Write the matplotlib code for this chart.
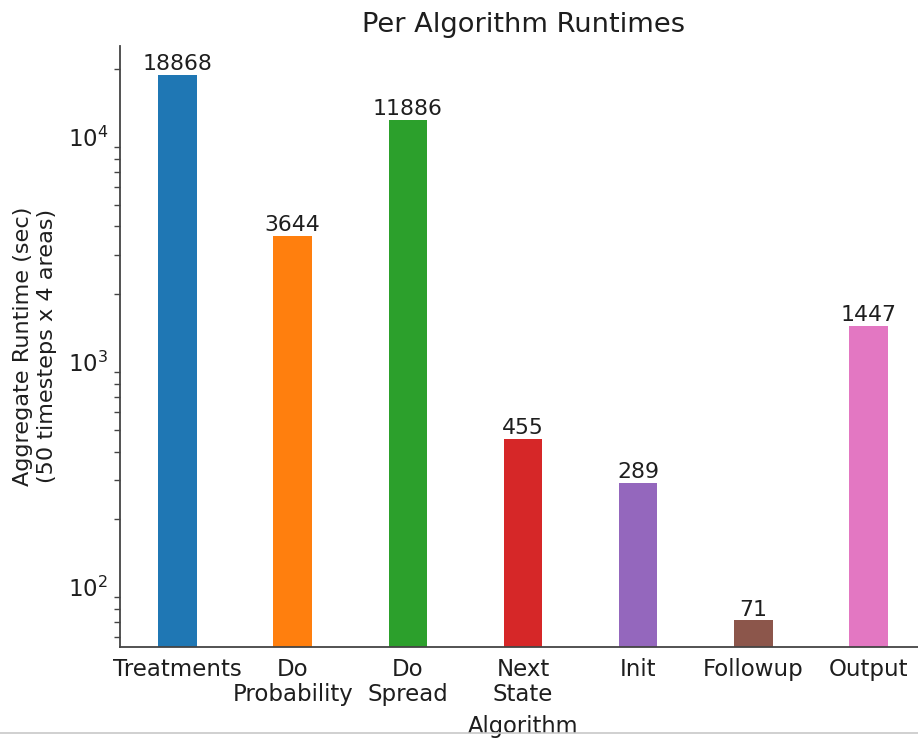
import matplotlib
matplotlib.use("Agg")
import matplotlib.pyplot as plt
from matplotlib.lines import Line2D

categories = ["Treatments", "Do\nProbability", "Do\nSpread", "Next\nState", "Init", "Followup", "Output"]
runtimes = [18868, 3644, 11886, 455, 289, 71, 1447]
colors = ["#1f77b4", "#ff7f0e", "#2ca02c", "#d62728", "#9467bd", "#8c564b", "#e377c2"]

plt.rcParams['font.family'] = ['DejaVu Sans']
FS_TICK = 16.5
FS_BAR = 15.8
FS_LABEL = 16.3
TXT = '#1e1e1e'

fig = plt.figure(figsize=(9.18, 7.38), dpi=100)
ax = fig.add_axes([120/918, 1 - 646.7/738, (926 - 120)/918, (646.7 - 46)/738])

x = list(range(len(categories)))
ax.bar(x, runtimes, width=0.335, color=colors, edgecolor='none')
ax.set_yscale('log')
ax.set_ylim(54.3, 25360)
ax.set_xlim(-0.5, 6.5)

for xi, v in zip(x, runtimes):
    ax.text(xi, v * 1.01, str(v), ha='center', va='bottom', fontsize=FS_BAR, color=TXT)

ax.set_xticks(x)
ax.set_xticklabels(categories, fontsize=FS_TICK, color=TXT, ha='center', multialignment='center',
                   linespacing=1.1)
ax.tick_params(axis='y', which='major', length=3.5, pad=5, color=(0, 0, 0, 0),
               labelsize=FS_TICK, labelcolor=TXT)
ax.tick_params(axis='x', which='major', length=3.5, pad=4.5, color=(0, 0, 0, 0),
               labelsize=FS_TICK, labelcolor=TXT)
ax.tick_params(axis='y', which='minor', length=4, width=1, color='#444444')
ax.tick_params(axis='x', which='minor', length=0)

ax.spines['top'].set_visible(False)
ax.spines['right'].set_visible(False)
ax.spines['left'].set_color('#444444')
ax.spines['bottom'].set_color('#444444')
ax.spines['left'].set_linewidth(1.3)
ax.spines['bottom'].set_linewidth(1.3)

ax.set_title("Per Algorithm Runtimes", fontsize=19.6, color=TXT, pad=10)
ax.set_xlabel("Algorithm", fontsize=FS_LABEL, color=TXT, labelpad=6.5)
ax.set_ylabel("Aggregate Runtime (sec)\n(50 timesteps x 4 areas)", fontsize=16.1, color=TXT, labelpad=8)

fig.add_artist(Line2D([0, 1], [1 - 733/738, 1 - 733/738], transform=fig.transFigure, color='#c8c8c8', lw=1.2))

fig.savefig("out.png", dpi=100)
